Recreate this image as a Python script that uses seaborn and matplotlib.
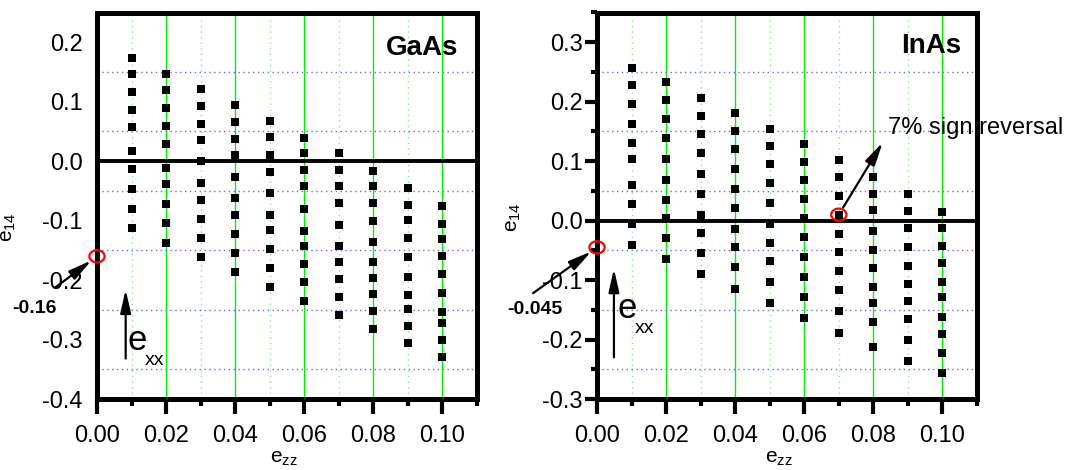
import matplotlib
matplotlib.use("Agg")
import matplotlib.pyplot as plt
from matplotlib.ticker import MultipleLocator, FormatStrFormatter
from matplotlib.path import Path
import numpy as np
import pandas as pd
import seaborn as sns

# strain e_zz columns
ezz = [0.01, 0.02, 0.03, 0.04, 0.05, 0.06, 0.07, 0.08, 0.09, 0.10]

# e14 values per e_zz column (one value per e_xx step)
gaas_e14 = [
    [0.174, 0.147, 0.116, 0.086, 0.057, 0.017, -0.013, -0.047, -0.081, -0.112],
    [0.147, 0.119, 0.089, 0.059, 0.029, -0.011, -0.039, -0.072, -0.104, -0.137],
    [0.121, 0.092, 0.063, 0.035, 0.001, -0.037, -0.065, -0.098, -0.130, -0.162],
    [0.095, 0.066, 0.037, 0.010, -0.026, -0.062, -0.091, -0.123, -0.155, -0.187],
    [0.067, 0.040, 0.011, -0.018, -0.054, -0.091, -0.116, -0.148, -0.180, -0.211],
    [0.039, 0.013, -0.015, -0.042, -0.081, -0.118, -0.142, -0.173, -0.204, -0.235],
    [0.013, -0.015, -0.042, -0.071, -0.107, -0.143, -0.169, -0.199, -0.229, -0.259],
    [-0.016, -0.042, -0.070, -0.100, -0.136, -0.170, -0.196, -0.223, -0.252, -0.282],
    [-0.045, -0.073, -0.099, -0.130, -0.162, -0.195, -0.225, -0.249, -0.278, -0.306],
    [-0.076, -0.105, -0.131, -0.160, -0.190, -0.221, -0.254, -0.272, -0.301, -0.329],
]

inas_e14 = [
    [0.257, 0.228, 0.196, 0.163, 0.130, 0.104, 0.060, 0.028, -0.006, -0.041],
    [0.233, 0.203, 0.171, 0.139, 0.104, 0.069, 0.035, 0.005, -0.030, -0.065],
    [0.207, 0.176, 0.145, 0.113, 0.079, 0.045, 0.010, -0.020, -0.054, -0.090],
    [0.181, 0.151, 0.120, 0.087, 0.054, 0.021, -0.014, -0.045, -0.078, -0.115],
    [0.154, 0.126, 0.095, 0.063, 0.029, -0.005, -0.038, -0.068, -0.103, -0.138],
    [0.129, 0.099, 0.069, 0.036, 0.004, -0.027, -0.062, -0.094, -0.128, -0.163],
    [0.102, 0.074, 0.042, 0.010, -0.023, -0.052, -0.085, -0.117, -0.152, -0.189],
    [0.074, 0.045, 0.018, -0.017, -0.049, -0.080, -0.111, -0.139, -0.170, -0.212],
    [0.045, 0.017, -0.013, -0.045, -0.076, -0.107, -0.135, -0.165, -0.200, -0.236],
    [0.015, -0.013, -0.042, -0.072, -0.103, -0.129, -0.162, -0.190, -0.222, -0.257],
]

# unstrained values and sign-reversal point
gaas_e14_zero = -0.16
inas_e14_zero = -0.045
inas_reversal_ezz = 0.07
inas_reversal_e14 = 0.010

gaas_label_zero = "-0.16"
inas_label_zero = "-0.045"
reversal_label = "7% sign reversal"


def to_frame(columns):
    rows = [(x, v) for x, col in zip(ezz, columns) for v in col]
    return pd.DataFrame(rows, columns=["ezz", "e14"])


sns.set_style("white")
plt.rcParams["font.family"] = ["Liberation Sans", "DejaVu Sans"]
plt.rcParams["mathtext.fontset"] = "custom"
plt.rcParams["mathtext.rm"] = "Liberation Sans"
plt.rcParams["mathtext.it"] = "Liberation Sans:italic"
plt.rcParams["axes.unicode_minus"] = False
for key in ["text.color", "axes.labelcolor", "xtick.color", "ytick.color",
            "xtick.labelcolor", "ytick.labelcolor"]:
    plt.rcParams[key] = "black"

W, H = 1084, 470
fig = plt.figure(figsize=(W / 100, H / 100), dpi=100)
ax_l = fig.add_axes([97 / W, 71 / H, 380 / W, 386.5 / H])
ax_r = fig.add_axes([597 / W, 71 / H, 380 / W, 386.5 / H])

# ellipse-shaped marker for highlighted points
t = np.linspace(0, 2 * np.pi, 60)
ring = Path(np.column_stack([1.25 * np.cos(t), np.sin(t)]), closed=True)


def style_axes(ax, ylim, show_yticks):
    ax.set_xlim(0, 0.11)
    ax.set_ylim(*ylim)
    ax.xaxis.set_major_locator(MultipleLocator(0.02))
    ax.xaxis.set_minor_locator(MultipleLocator(0.01))
    ax.yaxis.set_major_locator(MultipleLocator(0.1))
    ax.yaxis.set_minor_locator(MultipleLocator(0.05))
    ax.xaxis.set_major_formatter(FormatStrFormatter("%.2f"))
    ax.yaxis.set_major_formatter(FormatStrFormatter("%.1f"))
    for sp in ax.spines.values():
        sp.set_linewidth(3.6)
        sp.set_color("black")
    ax.tick_params(axis="x", which="major", direction="out", length=11, width=3,
                   pad=8, labelsize=17, bottom=True, colors="black")
    ax.tick_params(axis="x", which="minor", direction="out", length=5, width=3,
                   bottom=True, colors="black")
    if show_yticks:
        ax.tick_params(axis="y", which="major", direction="out", length=9, width=3,
                       pad=1.5, labelsize=17, left=True, colors="black")
        ax.tick_params(axis="y", which="minor", direction="out", length=4, width=3,
                       left=True, colors="black")
    else:
        ax.tick_params(axis="y", which="both", length=0, pad=10.5, labelsize=17,
                       left=True, colors="black")
    ax.grid(False)
    ax.grid(True, axis="x", which="major", color="#00f000", lw=1.0, ls="-", zorder=0)
    ax.grid(True, axis="x", which="minor", color="#7ff07f", lw=1.0, ls=(0, (1, 3)), zorder=0)
    ax.grid(True, axis="y", which="minor", color="#6a6af0", lw=1.0, ls=(0, (1, 2.5)), zorder=0)
    ax.set_axisbelow(True)
    ax.axhline(0.0, color="black", lw=2.8, zorder=1.5)
    ax.set_xlabel(r"$\mathregular{e_{zz}}$", fontsize=15)
    ax.set_ylabel(r"$\mathregular{e_{14}}$", fontsize=15)


def draw(ax, columns):
    sns.scatterplot(data=to_frame(columns), x="ezz", y="e14", marker="s", s=32,
                    color="black", linewidth=0, ax=ax, zorder=3, legend=False)


arrow_kw = dict(arrowstyle="-|>,head_length=1.4,head_width=0.32", color="black",
                lw=1.6, mutation_scale=10)

# ---- GaAs ----
draw(ax_l, gaas_e14)
style_axes(ax_l, (-0.4, 0.25), show_yticks=False)
ax_l.xaxis.set_label_coords(0.492, -0.13)
ax_l.yaxis.set_label_coords(-0.208, 0.445)
ax_l.text(0.95, 0.891, "GaAs", transform=ax_l.transAxes, ha="right", va="baseline",
          fontsize=20, fontweight="bold")
sns.scatterplot(x=[0.0], y=[gaas_e14_zero], marker=ring, s=120, facecolor="none",
                edgecolor="red", linewidth=1.6, ax=ax_l, zorder=6, clip_on=False)
ax_l.annotate("", xy=(0.0, gaas_e14_zero), xytext=(-0.0122, -0.213),
              arrowprops=dict(shrinkA=0, shrinkB=5, **arrow_kw), annotation_clip=False)
ax_l.text(-0.0246, -0.256, gaas_label_zero, ha="left", va="baseline", fontsize=14,
          fontweight="bold", clip_on=False)
ax_l.annotate("", xy=(0.0083, -0.216), xytext=(0.0083, -0.332),
              arrowprops=dict(shrinkA=0, shrinkB=0, **arrow_kw))
ax_l.text(0.0089, -0.318, "e", fontsize=25, ha="left", va="baseline")
ax_l.text(0.0138, -0.343, "xx", fontsize=14, ha="left", va="baseline")

# ---- InAs ----
draw(ax_r, inas_e14)
style_axes(ax_r, (-0.3, 0.35), show_yticks=True)
ax_r.xaxis.set_label_coords(0.479, -0.13)
ax_r.yaxis.set_label_coords(-0.195, 0.47)
ax_r.text(0.958, 0.894, "InAs", transform=ax_r.transAxes, ha="right", va="baseline",
          fontsize=20, fontweight="bold")
sns.scatterplot(x=[0.0, inas_reversal_ezz], y=[inas_e14_zero, inas_reversal_e14],
                marker=ring, s=120, facecolor="none", edgecolor="red", linewidth=1.6,
                ax=ax_r, zorder=6, clip_on=False)
ax_r.annotate("", xy=(0.0, inas_e14_zero), xytext=(-0.0185, -0.122),
              arrowprops=dict(shrinkA=0, shrinkB=5, **arrow_kw), annotation_clip=False)
ax_r.text(-0.026, -0.157, inas_label_zero, ha="left", va="baseline", fontsize=14,
          fontweight="bold", clip_on=False)
ax_r.annotate("", xy=(0.0827, 0.1315), xytext=(inas_reversal_ezz, inas_reversal_e14),
              arrowprops=dict(shrinkA=6, shrinkB=0, **arrow_kw))
ax_r.text(0.0841, 0.146, reversal_label, ha="left", va="baseline", fontsize=17,
          clip_on=False)
ax_r.annotate("", xy=(0.0049, -0.081), xytext=(0.0049, -0.23),
              arrowprops=dict(shrinkA=0, shrinkB=0, **arrow_kw))
ax_r.text(0.0060, -0.164, "e", fontsize=25, ha="left", va="baseline")
ax_r.text(0.0110, -0.189, "xx", fontsize=14, ha="left", va="baseline")

fig.savefig("out.png", dpi=100)
